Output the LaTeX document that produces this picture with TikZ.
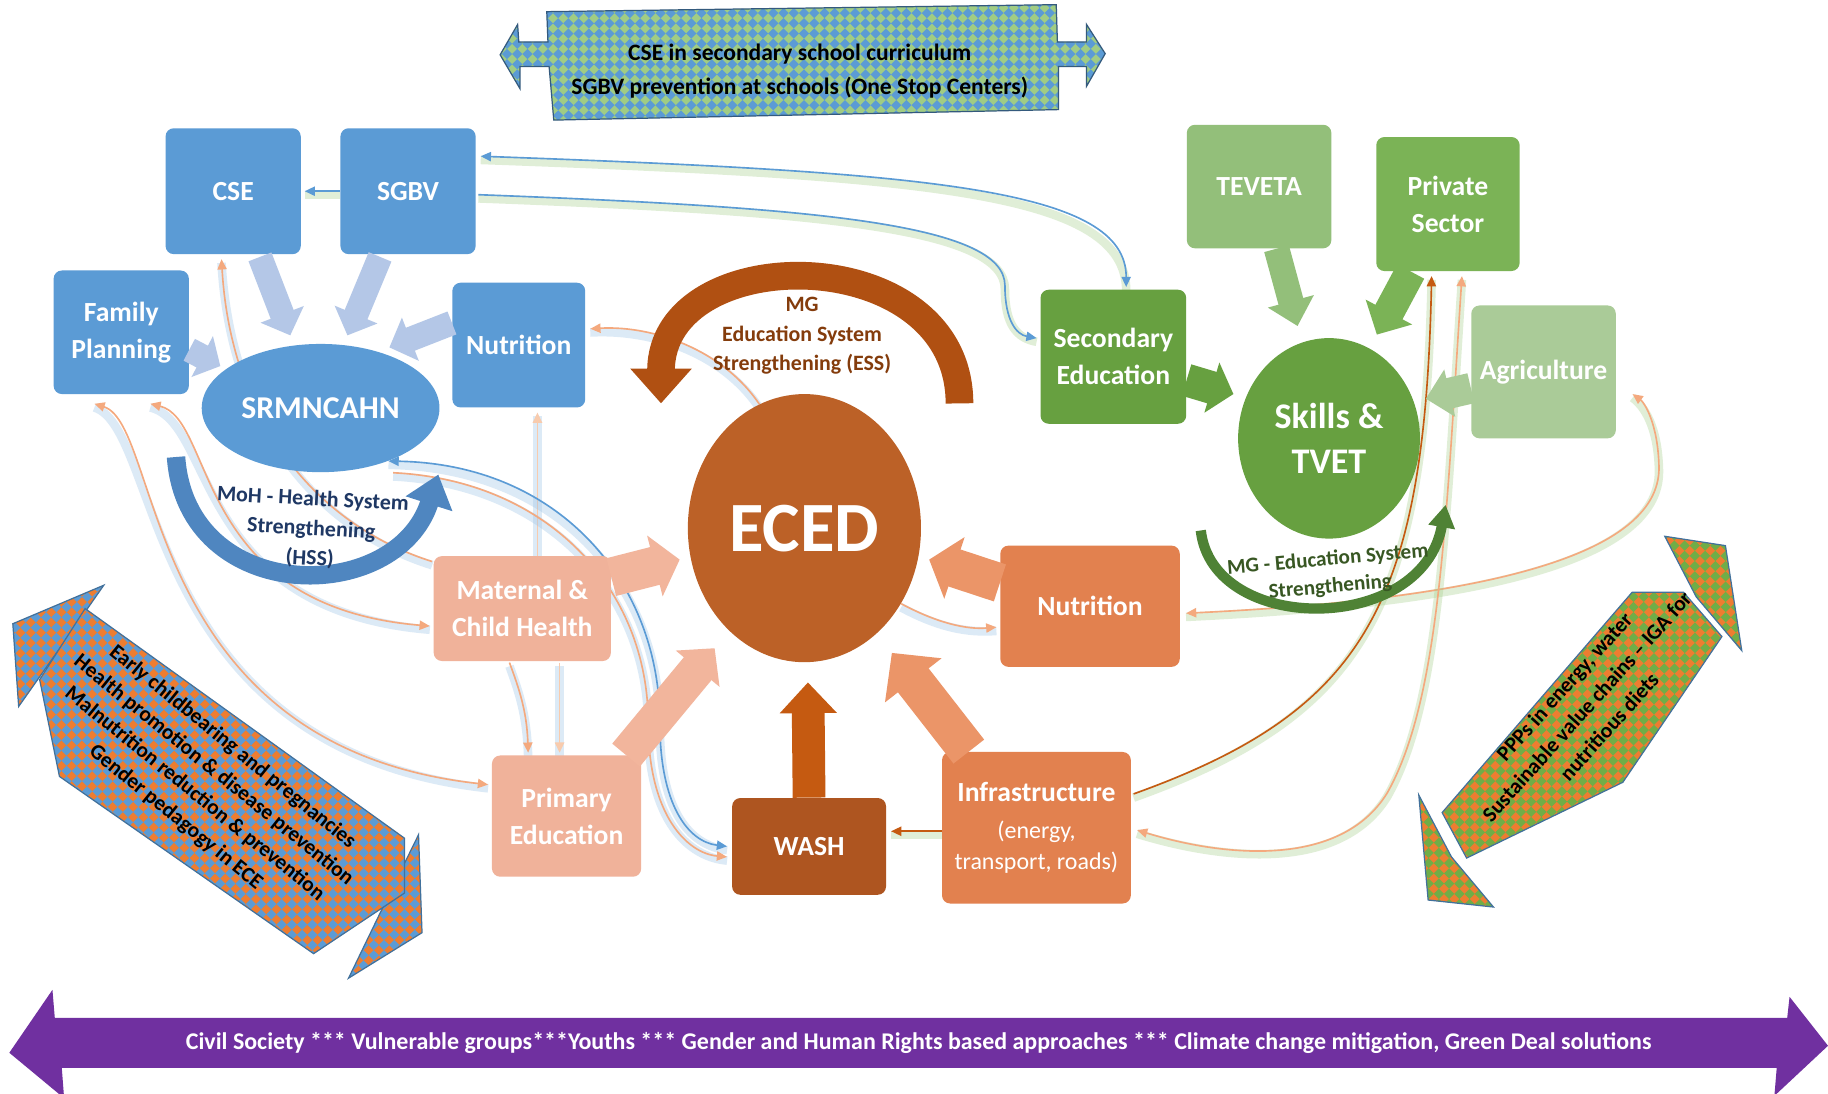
\documentclass[tikz,border=0pt]{standalone}
\usepackage{fontspec}
\setmainfont{Carlito}
\usepackage{tikz}
\usetikzlibrary{arrows.meta,patterns,calc,shapes.geometric}

\definecolor{boxblue}{HTML}{5B9BD5}
\definecolor{arrblue}{HTML}{B4C7E7}
\definecolor{hssblue}{HTML}{4F86C0}
\definecolor{hsstext}{HTML}{1F3864}
\definecolor{secgreen}{HTML}{67A040}
\definecolor{tevgreen}{HTML}{93BF7A}
\definecolor{privgreen}{HTML}{7BB356}
\definecolor{agrigreen}{HTML}{AACB98}
\definecolor{mggreen}{HTML}{4F8235}
\definecolor{mgtext}{HTML}{385723}
\definecolor{ecedbrown}{HTML}{BC6127}
\definecolor{essbrown}{HTML}{B05012}
\definecolor{esstext}{HTML}{843C0C}
\definecolor{lightor}{HTML}{F0B29A}
\definecolor{lightorarr}{HTML}{F2B59C}
\definecolor{midor}{HTML}{E2814F}
\definecolor{midorarr}{HTML}{EB9568}
\definecolor{washbrown}{HTML}{AE5520}
\definecolor{washarr}{HTML}{C55A11}
\definecolor{civpurple}{HTML}{7030A0}
\definecolor{lineor}{HTML}{F4A97E}
\definecolor{lineorl}{HTML}{F8CBAD}
\definecolor{lineblue}{HTML}{5B9BD5}
\definecolor{linedark}{HTML}{C55A11}
\definecolor{glowblue}{HTML}{9DC3E6}
\definecolor{glowgreen}{HTML}{A9D18E}
\definecolor{patorange}{HTML}{ED7D31}
\definecolor{patblue}{HTML}{5B9BD5}
\definecolor{patgreen}{HTML}{70AD47}
\definecolor{banngreen}{HTML}{A0CC84}
\definecolor{patline}{HTML}{41719C}

\pgfdeclarepatternformonly{diamondtiles}{\pgfpoint{-0.1pt}{-0.1pt}}{\pgfpoint{5.1pt}{5.1pt}}{\pgfpoint{5pt}{5pt}}{%
  \pgfpathmoveto{\pgfpoint{2.5pt}{0pt}}%
  \pgfpathlineto{\pgfpoint{5pt}{2.5pt}}%
  \pgfpathlineto{\pgfpoint{2.5pt}{5pt}}%
  \pgfpathlineto{\pgfpoint{0pt}{2.5pt}}%
  \pgfpathclose
  \pgfusepath{fill}}

\pgfdeclarelayer{back}
\pgfdeclarelayer{links}
\pgfsetlayers{back,links,main}

\newcommand\infrasub{\mdseries\fontsize{11.7}{14}\selectfont}

\begin{document}
\begin{tikzpicture}[x=0.02cm, y=-0.02cm, >={Triangle[length=5pt,width=4.5pt]},
    box_node/.style={rectangle, rounded corners=4pt, text=white, align=center, inner sep=1pt, font=\bfseries\fontsize{13.5}{18}\selectfont},
    oval_node/.style={ellipse, text=white, align=center, inner sep=0pt},
    label_text/.style={align=center, font=\bfseries\fontsize{10.7}{14.5}\selectfont},
    pat_text/.style={align=center, text=black, font=\bfseries\fontsize{10.5}{14.7}\selectfont},
    pat_fill/.style 2 args={draw=patline, line width=0.6pt, preaction={fill=#1}, pattern=diamondtiles, pattern color=#2},
    fat_arrow/.style n args={4}{draw=#1, line width=#2, -{Triangle[length=#3,width=#4]}},
    link/.style 2 args={draw=#1, line width=0.8pt, preaction={-, draw=#2, line width=4.2pt, opacity=0.35, transform canvas={yshift=-1.8pt}}}]

    \useasboundingbox (0,0) rectangle (1568,938);

    % background shapes
    \begin{pgfonlayer}{back}
    \fill[white] (0,0) rectangle (1568,938);
    \draw[pat_fill={banngreen}{patblue}, draw=patline!80!black] (429,47) -- (444,21) -- (445,36) -- (470,36) -- (469,10) -- (906,4) -- (907,36) -- (932,36) -- (932,21) -- (948,46) -- (932,74) -- (932,57) -- (908,57) -- (908,94) -- (475,103) -- (471,57) -- (446,57) -- (446,76) -- cycle;
    \fill[civpurple] (8,903) -- (45,849) -- (47,873) -- (1533,873) -- (1535,855) -- (1568,897) -- (1522,940) -- (1524,916) -- (53,916) -- (55,942) -- cycle;
    % left arrow
    \draw[pat_fill={patorange}{patblue}] (89,502) -- (11,535) -- (16,606) -- (52,555) -- cycle;
    \draw[pat_fill={patorange}{patblue}] (359,716) -- (362,800) -- (299,839) -- (330,775) -- cycle;
    \draw[pat_fill={patorange}{patblue}] (73,522) -- (347,719) -- (347,766) -- (269,818) -- (51,666) -- (34,583) -- cycle;
    % right arrow
    \draw[pat_fill={patorange}{patgreen}] (1428,460) -- (1480,468) -- (1494,558) -- (1455,512) -- cycle;
    \draw[pat_fill={patorange}{patgreen}] (1217,682) -- (1225,772) -- (1281,778) -- (1245,735) -- cycle;
    \draw[pat_fill={patorange}{patgreen}] (1400,508) -- (1444,508) -- (1477,546) -- (1392,671) -- (1258,736) -- (1237,697) -- cycle;
    \end{pgfonlayer}

    % health side
    \node[box_node, fill=boxblue, minimum width=2.32cm, minimum height=2.16cm] (cse) at (200,164) {CSE};
    \node[box_node, fill=boxblue, minimum width=2.32cm, minimum height=2.16cm] (sgbv) at (350,164) {SGBV};
    \node[box_node, fill=boxblue, minimum width=2.32cm, minimum height=2.12cm] (fp) at (104,285) {Family\\Planning};
    \node[box_node, fill=boxblue, minimum width=2.28cm, minimum height=2.14cm] (nutb) at (445,296) {Nutrition};
    \node[oval_node, fill=boxblue, minimum width=4.08cm, minimum height=2.2cm, font=\bfseries\fontsize{15.5}{20}\selectfont] (srm) at (275,350) {SRMNCAHN};

    % centre
    \node[oval_node, fill=ecedbrown, minimum width=4cm, minimum height=4.6cm, font=\bfseries\fontsize{34.5}{40}\selectfont] (ecedc) at (690,453) {ECED};
    \node[box_node, fill=lightor, minimum width=3.04cm, minimum height=1.8cm] (mch) at (448,522) {Maternal \&\\Child Health};
    \node[box_node, fill=lightor, minimum width=2.56cm, minimum height=2.08cm] (prim) at (486,700) {Primary\\Education};
    \node[box_node, fill=washbrown, minimum width=2.64cm, minimum height=1.66cm] (wash) at (694,726) {WASH};
    \node[box_node, fill=midor, minimum width=3.24cm, minimum height=2.6cm] (infra) at (889,710) {Infrastructure\\{\infrasub (energy,}\\[-3pt]{\infrasub transport, roads)}};
    \node[box_node, fill=midor, minimum width=3.08cm, minimum height=2.08cm] (nuto) at (935,520) {Nutrition};

    % skills side
    \node[box_node, fill=secgreen, minimum width=2.5cm, minimum height=2.3cm] (sec) at (955,306) {Secondary\\Education};
    \node[box_node, fill=tevgreen, minimum width=2.48cm, minimum height=2.12cm] (tev) at (1080,160) {TEVETA};
    \node[box_node, fill=privgreen, minimum width=2.46cm, minimum height=2.3cm] (priv) at (1242,175) {Private\\Sector};
    \node[box_node, fill=agrigreen, minimum width=2.48cm, minimum height=2.28cm] (agri) at (1324,319) {Agriculture};
    \node[oval_node, fill=secgreen, minimum width=3.12cm, minimum height=3.44cm, font=\bfseries\fontsize{17.6}{22}\selectfont] (skills) at (1140,376) {Skills \&\\TVET};

    % thin links
    \begin{pgfonlayer}{links}
    \draw[link={lineblue}{glowgreen}, <->] ($(sgbv.east)+(4,-30)$) .. controls (800,148) and (966,162) .. ($(sec.north)+(11,-2)$);
    \draw[link={lineblue}{glowgreen}, ->] ($(sgbv.east)+(2,3)$) .. controls (700,178) and (862,192) .. (862,245) .. controls (862,275) and (872,287) .. ($(sec.west)+(-3,-16)$);
    \draw[link={lineblue}{glowgreen}, ->] (sgbv.west) -- ($(cse.east)+(3,0)$);
    \draw[link={lineor}{glowblue}, ->] (ecedc.110) .. controls (620,300) and (560,279) .. ($(nutb.east)+(4,-14)$);
    \draw[link={lineorl}{glowblue}, ->] ($(mch.north)+(13,0)$) -- ($(nutb.south)+(16,4)$);
    \draw[link={lineor}{glowblue}, ->] ($(mch.north west)+(-1,5)$) .. controls (270,450) and (198,360) .. ($(cse.south)+(-10,4)$);
    \draw[link={lineor}{glowblue}, <->] ($(fp.south)+(-23,8)$) .. controls (140,365) and (120,640) .. ($(prim.west)+(-3,-27)$);
    \draw[link={lineor}{glowblue}, <->] ($(fp.south)+(25,8)$) .. controls (185,360) and (165,520) .. ($(mch.west)+(-3,15)$);
    \draw[link={lineor}{glowblue}, ->] ($(mch.south)+(-11,1)$) .. controls (445,590) and (452,610) .. ($(prim.north)+(-33,-2)$);
    \draw[link={lineorl}{glowblue}, ->] ($(mch.south)+(32,1)$) -- ($(prim.north)+(-6,-2)$);
    \draw[link={lineblue}{glowblue}, <->] (srm.-38) .. controls (480,398) and (566,500) .. (566,620) .. controls (566,690) and (590,722) .. ($(wash.west)+(-4,0)$);
    \draw[link={lineor}{glowblue}, ->] ($(srm.-38)+(4,10)$) .. controls (470,412) and (556,505) .. (556,620) .. controls (556,700) and (590,732) .. ($(wash.west)+(-4,9)$);
    \draw[link={lineor}{glowblue}, ->] (ecedc.-38) .. controls (805,535) and (830,540) .. ($(nuto.west)+(-3,18)$);
    \draw[link={lineor}{glowgreen}, <->] ($(nuto.east)+(5,6)$) .. controls (1250,515) and (1425,482) .. (1423,400) .. controls (1422,362) and (1410,345) .. ($(agri.east)+(14,19)$);
    \draw[link={linedark}{glowgreen}, ->] ($(infra.east)+(2,-29)$) .. controls (1170,610) and (1222,520) .. ($(priv.south)+(-14,4)$);
    \draw[link={lineor}{glowgreen}, <->] ($(priv.south)+(12,4)$) .. controls (1240,450) and (1235,600) .. (1190,680) .. controls (1150,745) and (1050,735) .. ($(infra.east)+(5,2)$);
    \draw[link={linedark}{glowgreen}, ->] ($(infra.west)+(0,3)$) -- ($(wash.east)+(4,-13)$);
    \end{pgfonlayer}

    % fat arrows
    \draw[fat_arrow={arrblue}{12pt}{11pt}{22pt}] ($(cse.south)+(23,2)$) -- ($(srm.north)+(-26,-7)$);
    \draw[fat_arrow={arrblue}{12pt}{11pt}{22pt}] ($(sgbv.south)+(-24,2)$) -- ($(srm.north)+(23,-7)$);
    \draw[fat_arrow={arrblue}{12pt}{11pt}{22pt}] ($(nutb.west)+(0,-19)$) -- ($(srm.center)+(59,-52)$);
    \draw[fat_arrow={arrblue}{12pt}{10pt}{22pt}] ($(fp.east)+(0,15)$) -- ($(srm.center)+(-86,-36)$);
    \draw[fat_arrow={lightorarr}{19pt}{12.5pt}{30pt}] ($(mch.east)+(0,-27)$) -- ($(ecedc.center)+(-107,27)$);
    \draw[fat_arrow={lightorarr}{17.5pt}{13pt}{27pt}] ($(prim.north)+(51,0)$) -- ($(ecedc.center)+(-77,103)$);
    \draw[fat_arrow={washarr}{16pt}{15pt}{27pt}] (wash.north) -- ($(ecedc.south)+(3,17)$);
    \draw[fat_arrow={midorarr}{19pt}{17pt}{34pt}] ($(infra.north)+(-58,0)$) -- ($(ecedc.center)+(75,107)$);
    \draw[fat_arrow={midorarr}{19pt}{13pt}{31pt}] ($(nuto.west)+(0,-20)$) -- ($(ecedc.center)+(107,27)$);
    \draw[fat_arrow={tevgreen}{12.5pt}{12.5pt}{22.5pt}] ($(tev.south)+(15,0)$) -- ($(skills.north)+(-27,-10)$);
    \draw[fat_arrow={privgreen}{15pt}{12.5pt}{25pt}] ($(priv.south)+(-32,0)$) -- ($(skills.center)+(41,-89)$);
    \draw[fat_arrow={secgreen}{16pt}{11pt}{25pt}] ($(sec.east)+(0,20)$) -- ($(skills.center)+(-82,-38)$);
    \draw[fat_arrow={agrigreen}{15pt}{12pt}{23pt}] ($(agri.west)+(0,14)$) -- ($(skills.center)+(83,-34)$);

    % system strengthening loops
    \draw[fat_arrow={hssblue}{9pt}{15pt}{23pt}] (151,392) .. controls (160,520) and (340,520) .. (376,407);
    \draw[fat_arrow={essbrown}{13.5pt}{17pt}{29pt}] (823,346) .. controls (823,205) and (567,205) .. (567,346);
    \draw[fat_arrow={mggreen}{5pt}{11pt}{12.5pt}] (1030,455) .. controls (1040,545) and (1220,545) .. (1240,433);

    \node[label_text, text=hsstext, rotate=-3] (hsstxt) at (267,454) {MoH - Health System\\Strengthening\\(HSS)};
    \node[label_text, text=esstext] (esstxt) at (688,288) {MG\\Education System\\Strengthening (ESS)};
    \node[label_text, text=mgtext, rotate=5, font=\bfseries\fontsize{10.3}{13.5}\selectfont] (mgtxt) at (1140,492) {MG - Education System\\Strengthening};

    % banners
    \node[label_text, font=\bfseries\fontsize{11.5}{16.4}\selectfont] (bantxt) at (686,61) {CSE in secondary school curriculum\\SGBV prevention at schools (One Stop Centers)};
    \node[pat_text, rotate=-39] (lefttxt) at (175,671) {Early childbearing and pregnancies\\Health promotion \& disease prevention\\Malnutrition reduction \& prevention\\Gender pedagogy in ECE};
    \node[pat_text, rotate=48] (righttxt) at (1361,606) {PPPs in energy, water\\Sustainable value chains -- IGA for\\nutritious diets};
    \node[text=white, font=\bfseries\fontsize{11.7}{14}\selectfont] (civtxt) at (788,895) {Civil Society *** Vulnerable groups***Youths *** Gender and Human Rights based approaches *** Climate change mitigation, Green Deal solutions};
\end{tikzpicture}
\end{document}
